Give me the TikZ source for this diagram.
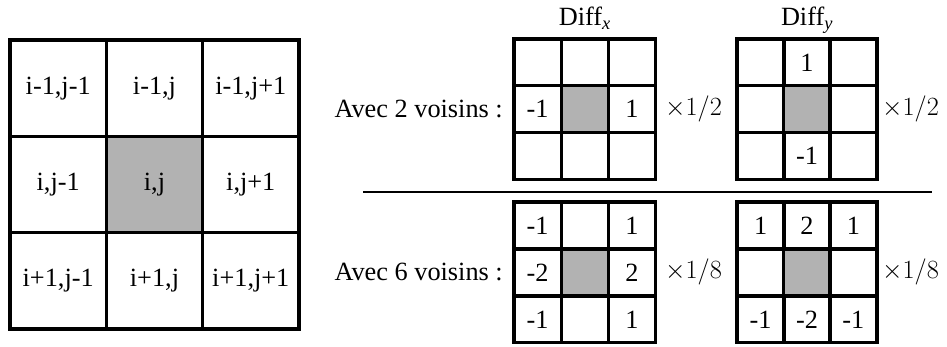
\RequirePackage{fix-cm}
\documentclass[tikz,border=0pt]{standalone}
\usepackage{fontspec}
\setmainfont{Liberation Serif}
\begin{document}
\begin{tikzpicture}[x=1pt,y=-1pt,
  every node/.style={font=\fontsize{26.3}{30}\selectfont, inner sep=0pt},
  bigcell/.style={draw, line width=3.2pt, minimum width=96.33pt, minimum height=96.33pt},
  smallcell/.style={draw, line width=3.2pt, minimum width=47.2pt, minimum height=46.8pt},
  centre/.style={fill=black!30},
  rowlabel/.style={anchor=east},
  factor/.style={anchor=west}]
\useasboundingbox (0,0) rectangle (947,347);

% big grid: x 10..299, y 40..329
\node[bigcell] (b11) at (58.2,88.2) {i-1,j-1};
\node[bigcell] (b12) at (154.5,88.2) {i-1,j};
\node[bigcell] (b13) at (250.8,88.2) {i-1,j+1};
\node[bigcell] (b21) at (58.2,184.5) {i,j-1};
\node[bigcell,centre] (b22) at (154.5,184.5) {i,j};
\node[bigcell] (b23) at (250.8,184.5) {i,j+1};
\node[bigcell] (b31) at (58.2,280.8) {i+1,j-1};
\node[bigcell] (b32) at (154.5,280.8) {i+1,j};
\node[bigcell] (b33) at (250.8,280.8) {i+1,j+1};

% Diff_x, 2 voisins: x 514..655, y 39..179
\node[smallcell] (x11) at (537.6,62.4) {};
\node[smallcell] (x12) at (584.8,62.4) {};
\node[smallcell] (x13) at (632,62.4) {};
\node[smallcell] (x21) at (537.6,109.2) {-1};
\node[smallcell,centre] (x22) at (584.8,109.2) {};
\node[smallcell] (x23) at (632,109.2) {1};
\node[smallcell] (x31) at (537.6,156) {};
\node[smallcell] (x32) at (584.8,156) {};
\node[smallcell] (x33) at (632,156) {};

% Diff_y, 2 voisins: x 737..877
\node[smallcell] (y11) at (760.6,62.4) {};
\node[smallcell] (y12) at (807,62.4) {1};
\node[smallcell] (y13) at (853.4,62.4) {};
\node[smallcell] (y21) at (760.6,109.2) {};
\node[smallcell,centre] (y22) at (807,109.2) {};
\node[smallcell] (y23) at (853.4,109.2) {};
\node[smallcell] (y31) at (760.6,156) {};
\node[smallcell] (y32) at (807,156) {-1};
\node[smallcell] (y33) at (853.4,156) {};

% Diff_x, 6 voisins: y 202..343
\node[smallcell] (u11) at (537.6,225.4) {-1};
\node[smallcell] (u12) at (584.8,225.4) {};
\node[smallcell] (u13) at (632,225.4) {1};
\node[smallcell] (u21) at (537.6,272.4) {-2};
\node[smallcell,centre] (u22) at (584.8,272.4) {};
\node[smallcell] (u23) at (632,272.4) {2};
\node[smallcell] (u31) at (537.6,319.4) {-1};
\node[smallcell] (u32) at (584.8,319.4) {};
\node[smallcell] (u33) at (632,319.4) {1};

% Diff_y, 6 voisins
\node[smallcell] (v11) at (760.6,225.4) {1};
\node[smallcell] (v12) at (807,225.4) {2};
\node[smallcell] (v13) at (853.4,225.4) {1};
\node[smallcell] (v21) at (760.6,272.4) {};
\node[smallcell,centre] (v22) at (807,272.4) {};
\node[smallcell] (v23) at (853.4,272.4) {};
\node[smallcell] (v31) at (760.6,319.4) {-1};
\node[smallcell] (v32) at (807,319.4) {-2};
\node[smallcell] (v33) at (853.4,319.4) {-1};

% titles
\node[anchor=base] (tx) at (584.8,26) {Diff\textsubscript{\textit{x}}};
\node[anchor=base] (ty) at (807,26) {Diff\textsubscript{\textit{y}}};

% row labels
\node[rowlabel] (a2) at (503,109.2) {Avec 2 voisins :};
\node[rowlabel] (a6) at (503,272.4) {Avec 6 voisins :};

% factors
\node[factor] (f1) at (665,109.2) {$\times 1/2$};
\node[factor] (f2) at (882,109.2) {$\times 1/2$};
\node[factor] (f3) at (665,272.4) {$\times 1/8$};
\node[factor] (f4) at (882,272.4) {$\times 1/8$};

% separator
\coordinate (s1) at (363,192);
\coordinate (s2) at (932,192);
\draw[line width=1.2pt] (s1) -- (s2);
\end{tikzpicture}
\end{document}
